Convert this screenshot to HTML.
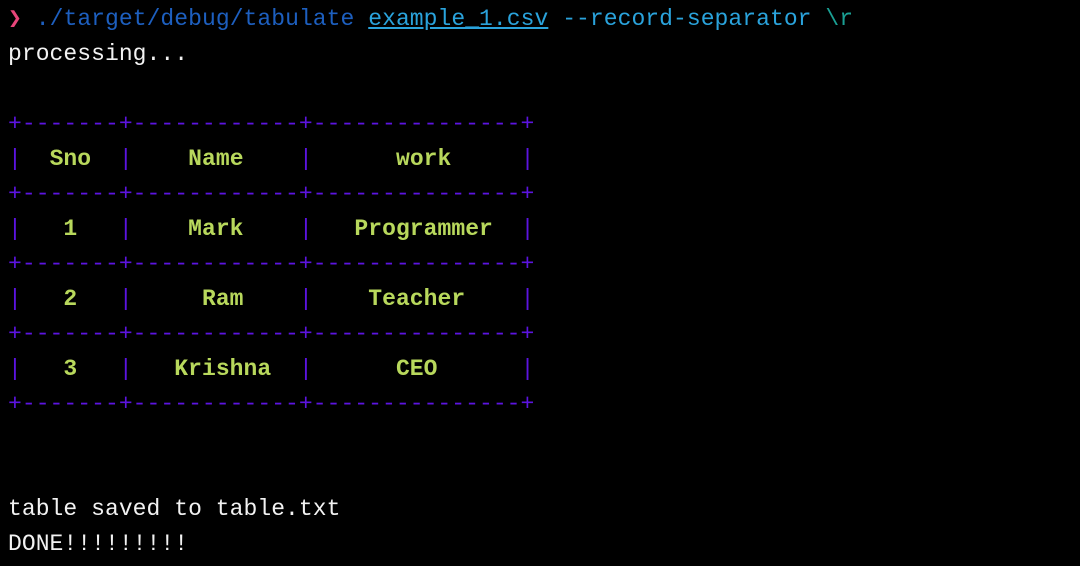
<!DOCTYPE html>
<html><head><meta charset="utf-8"><style>
html,body{margin:0;padding:0;background:#000;width:1080px;height:566px;overflow:hidden}
pre{margin:0;position:absolute;left:8px;top:2px;font-family:"Liberation Mono","DejaVu Sans Mono",monospace;font-size:23px;letter-spacing:0.05px;line-height:35px;color:#f2f2f2}
.p{color:#e8457a}.b{color:#1d5fbf}.f{color:#2aa3dc;text-decoration:underline}.a{color:#2aa3dc}.t{color:#1aa094}
.g{color:#5c14e0}.y{color:#b8d85c;font-weight:bold}
</style></head><body>
<pre><span class="p">❯</span> <span class="b">./target/debug/tabulate</span> <span class="f">example_1.csv</span> <span class="a">--record-separator</span> <span class="t">\r</span>
processing...

<span class="g">+-------+------------+---------------+</span>
<span class="g">|</span>  <span class="y">Sno</span>  <span class="g">|</span>    <span class="y">Name</span>    <span class="g">|</span>      <span class="y">work</span>     <span class="g">|</span>
<span class="g">+-------+------------+---------------+</span>
<span class="g">|</span>   <span class="y">1</span>   <span class="g">|</span>    <span class="y">Mark</span>    <span class="g">|</span>   <span class="y">Programmer</span>  <span class="g">|</span>
<span class="g">+-------+------------+---------------+</span>
<span class="g">|</span>   <span class="y">2</span>   <span class="g">|</span>     <span class="y">Ram</span>    <span class="g">|</span>    <span class="y">Teacher</span>    <span class="g">|</span>
<span class="g">+-------+------------+---------------+</span>
<span class="g">|</span>   <span class="y">3</span>   <span class="g">|</span>   <span class="y">Krishna</span>  <span class="g">|</span>      <span class="y">CEO</span>      <span class="g">|</span>
<span class="g">+-------+------------+---------------+</span>


table saved to table.txt
DONE!!!!!!!!!</pre>
</body></html>
